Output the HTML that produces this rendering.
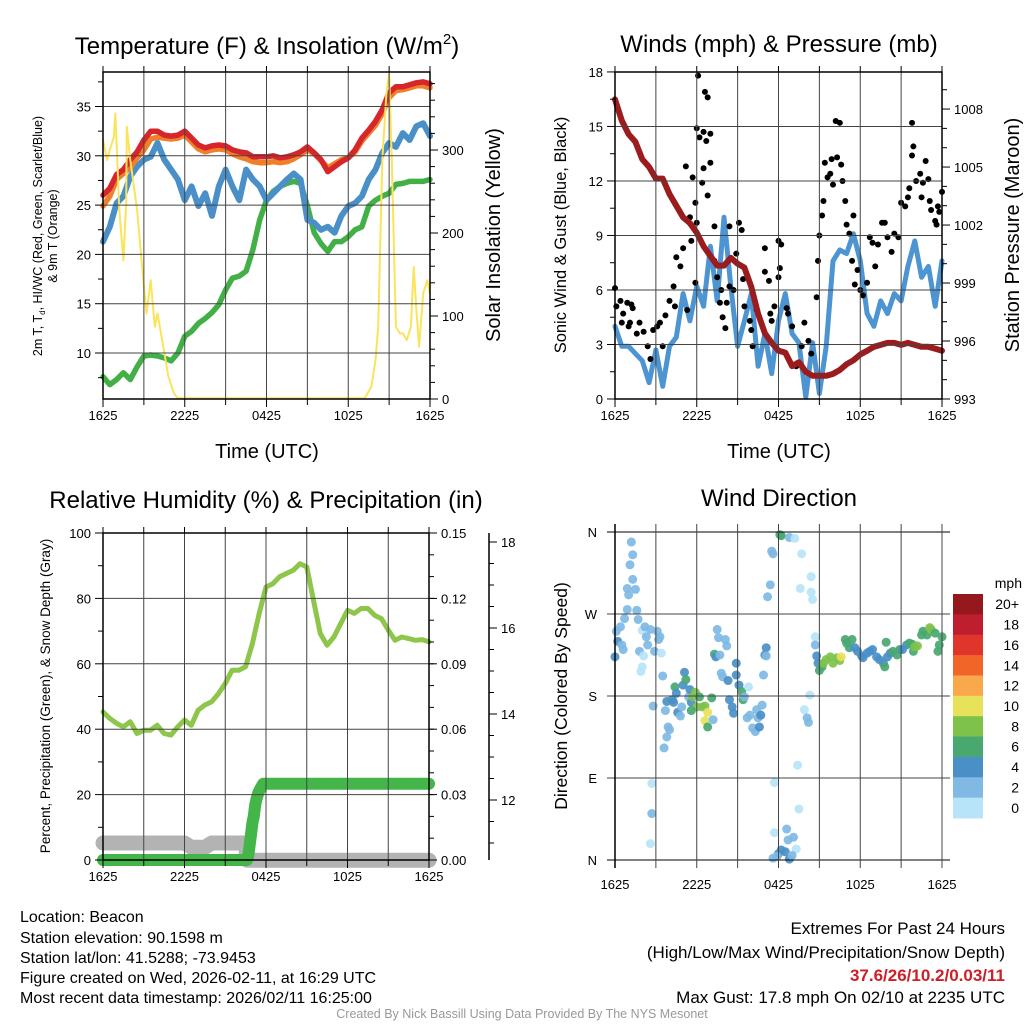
<!DOCTYPE html>
<html><head><meta charset="utf-8"><style>
html,body{margin:0;padding:0;background:#fff;}
svg{display:block;font-family:"Liberation Sans",Arial,sans-serif;}
</style></head><body>
<svg id="fig" width="1024" height="1024" viewBox="0 0 1024 1024" xmlns="http://www.w3.org/2000/svg">
<rect width="1024" height="1024" fill="#fff"/>
<g id="gP1"></g>
<g id="gP2"></g>
<g id="gP3"></g>
<g id="gP4"></g>
<g id="gAx"></g>

<text x="267" y="54" font-size="24" text-anchor="middle">Temperature (F) &amp; Insolation (W/m<tspan font-size="15" dy="-10">2</tspan><tspan dy="10">)</tspan></text>
<text x="779" y="52" font-size="24" text-anchor="middle">Winds (mph) &amp; Pressure (mb)</text>
<text x="266" y="508" font-size="24" text-anchor="middle">Relative Humidity (%) &amp; Precipitation (in)</text>
<text x="779" y="506" font-size="24" text-anchor="middle">Wind Direction</text>

<text x="267" y="458" font-size="20" text-anchor="middle">Time (UTC)</text>
<text x="779" y="458" font-size="20" text-anchor="middle">Time (UTC)</text>

<text transform="translate(42,236) rotate(-90)" font-size="12.5" text-anchor="middle">2m T, T<tspan font-size="8" dy="3">d</tspan><tspan dy="-3">, HI/WC (Red, Green, Scarlet/Blue)</tspan></text>
<text transform="translate(57,236) rotate(-90)" font-size="12.5" text-anchor="middle">&amp; 9m T (Orange)</text>
<text transform="translate(500,235) rotate(-90)" font-size="20" text-anchor="middle">Solar Insolation (Yellow)</text>
<text transform="translate(566,235) rotate(-90)" font-size="16.5" text-anchor="middle">Sonic Wind &amp; Gust (Blue, Black)</text>
<text transform="translate(1019,235) rotate(-90)" font-size="20" text-anchor="middle">Station Pressure (Maroon)</text>
<text transform="translate(50,696) rotate(-90)" font-size="13.5" text-anchor="middle">Percent, Precipitation (Green), &amp; Snow Depth (Gray)</text>
<text transform="translate(567,696) rotate(-90)" font-size="17.5" text-anchor="middle">Direction (Colored By Speed)</text>

<g font-size="16">
<text x="20" y="922">Location: Beacon</text>
<text x="20" y="943">Station elevation: 90.1598 m</text>
<text x="20" y="963">Station lat/lon: 41.5288; -73.9453</text>
<text x="20" y="983">Figure created on Wed, 2026-02-11, at 16:29 UTC</text>
<text x="20" y="1003">Most recent data timestamp: 2026/02/11 16:25:00</text>
</g>
<g font-size="17" text-anchor="end">
<text x="1005" y="934">Extremes For Past 24 Hours</text>
<text x="1005" y="958">(High/Low/Max Wind/Precipitation/Snow Depth)</text>
<text x="1005" y="981" fill="#cc1f27" font-weight="bold">37.6/26/10.2/0.03/11</text>
<text x="1005" y="1003">Max Gust: 17.8 mph On 02/10 at 2235 UTC</text>
</g>
<text x="522" y="1018" font-size="12.5" fill="#999" text-anchor="middle">Created By Nick Bassill Using Data Provided By The NYS Mesonet</text>
</svg>
<script>
// ---------- data ----------
const xTickLabels = ["1625","2225","0425","1025","1625"];
// panel 1 (half-hour steps over 24h)
const tempRed = [26.0,26.7,28.1,28.6,29.6,30.4,31.6,32.5,32.5,32.1,32.0,32.1,32.5,31.8,31.1,30.8,31.0,31.1,31.0,30.6,30.4,30.3,29.9,29.9,29.9,30.0,29.8,29.9,30.1,30.4,30.9,30.3,29.6,28.4,28.9,29.4,29.8,30.6,31.8,32.6,33.5,34.7,36.4,37.0,37.0,37.2,37.4,37.5,37.3];
const temp9m = [24.9,25.9,27.6,28.2,28.8,29.8,30.6,31.7,31.9,31.8,31.7,31.8,32.1,31.4,30.7,30.4,30.6,30.7,30.6,30.2,29.9,29.7,29.4,29.3,29.3,29.4,29.3,29.4,29.7,30.1,30.6,30.2,29.5,28.8,29.2,29.6,29.8,30.4,31.5,32.3,33.1,34.3,35.9,36.6,36.7,36.9,37.1,37.1,36.9];
const tempHiWc = [21.3,22.8,25.2,25.9,27.9,28.9,29.6,29.9,31.3,29.6,28.6,27.6,25.5,26.9,24.9,26.2,23.9,26.9,28.6,26.9,25.5,28.6,27.6,26.9,25.5,26.2,26.9,27.6,28.2,27.6,23.5,23.2,22.5,22.8,22.2,23.9,24.9,25.2,25.9,27.6,28.6,30.3,31.3,30.9,32.3,31.6,33.0,33.3,32.0];
const dewpoint = [7.6,6.8,7.3,8.0,7.3,8.6,9.7,9.8,9.7,9.5,9.2,10.0,11.7,12.2,13.0,13.5,14.1,14.9,16.4,17.6,17.8,18.3,20.5,23.5,25.5,26.4,26.9,27.2,27.4,27.2,24.9,22.2,21.1,20.3,21.3,21.3,21.8,22.5,22.8,24.9,25.5,25.9,26.2,27.1,27.2,27.4,27.4,27.4,27.6];
const solarHours = [0,0.3,0.5,0.8,0.9,1.0,1.2,1.5,1.7,1.75,2,2.5,3,3.2,3.5,3.8,4,4.3,4.8,5.2,5.5,19.2,19.7,20,20.2,20.5,20.8,21,21.2,21.5,21.8,22,22.3,22.6,22.8,23,23.2,23.5,23.8,24];
const solarVals = [312,288,300,316,344,308,228,167,236,328,288,228,135,103,143,87,103,75,27,7,1,1,15,47,87,288,368,392,288,87,79,79,71,87,159,107,63,127,143,127];
// panel 2
const pressure = [1008.5,1007.4,1006.7,1006.3,1005.4,1005.0,1004.4,1004.4,1003.6,1003.0,1002.4,1002.1,1001.6,1000.9,1000.4,999.9,999.9,1000.3,1000.0,999.8,998.8,997.4,996.4,995.9,995.5,995.4,994.7,994.9,994.4,994.2,994.2,994.2,994.3,994.5,994.8,995.0,995.3,995.5,995.7,995.8,995.9,995.9,995.8,995.9,995.8,995.7,995.7,995.6,995.5];
const sonicWind = [4.0,2.9,2.9,2.5,2.1,0.9,2.7,0.7,2.9,3.4,5.8,4.3,6.2,5.1,8.4,5.4,10.0,6.2,2.9,4.3,5.8,1.8,3.6,1.4,4.3,5.8,3.6,3.1,0.1,3.1,0.3,2.9,7.6,8.2,8.0,9.1,7.6,4.7,4.0,5.4,4.7,5.8,5.4,7.3,8.7,6.7,7.3,5.1,7.6];
const gustHours = [0,0.1,0.4,0.5,0.6,0.9,1.0,1.1,1.2,1.3,1.6,1.8,2.1,2.4,2.6,2.8,3.1,3.3,3.5,3.7,4.0,4.3,4.4,4.5,4.8,5.0,5.3,5.5,5.6,5.9,5.2,5.7,5.9,6.0,6.1,6.0,6.2,6.4,6.5,6.6,6.5,6.7,6.8,7.0,6.8,7.0,7.3,7.3,7.5,7.7,7.8,7.9,8.1,8.2,8.4,8.4,8.7,8.9,9.1,9.3,9.4,9.5,9.9,10.0,10.1,10.4,11.0,11.0,11.3,11.4,11.5,11.7,12.0,12.1,12.2,12.0,12.6,12.7,13.0,13.3,13.7,13.9,14.2,14.4,14.8,14.9,15.0,15.2,15.3,15.4,15.6,15.8,15.9,16.0,16.3,16.2,16.5,16.6,16.7,16.9,17.0,17.2,17.5,17.4,17.6,17.8,18.0,18.2,18.5,18.7,18.9,19.1,19.3,19.6,19.8,20.0,20.3,20.5,20.8,21.0,21.3,21.5,21.6,21.8,21.8,21.9,22.1,22.4,22.5,22.6,22.8,23.0,23.1,23.2,23.5,23.6,23.7,23.8,24];
const gustVals = [6.1,5.1,5.4,4.2,4.7,5.3,4.0,4.2,5.2,5.0,3.6,4.2,3.7,2.9,2.2,3.8,4.0,4.2,2.9,4.6,5.4,6.2,5.1,7.8,7.3,8.3,4.9,10.0,8.7,6.4,12.8,12.2,10.8,9.7,17.8,14.9,14.4,11.9,12.7,16.9,14.7,14.2,16.6,14.6,11.2,13.0,9.5,7.6,6.7,5.3,6.0,4.5,3.9,5.3,9.5,6.2,6.0,8.0,9.7,9.3,6.6,5.1,4.3,3.8,2.9,4.9,8.3,7.0,6.5,4.7,4.3,5.1,8.7,7.2,8.5,6.7,5.0,4.7,4.0,1.8,2.9,4.2,3.2,2.5,5.6,7.6,9.0,10.1,10.9,13.0,12.2,12.4,13.2,11.8,13.3,15.3,15.2,12.9,12.0,10.9,9.6,9.1,10.1,7.6,6.3,7.1,6.0,5.7,6.4,8.9,8.6,7.3,8.5,9.7,9.7,8.9,8.1,9.1,8.9,10.8,10.6,11.1,11.6,13.4,15.2,13.9,12.0,12.4,11.1,11.9,13.1,12.1,10.9,10.4,9.8,9.6,10.6,10.3,11.4];
// panel 3
const relHum = [45.3,43.3,41.8,40.7,42.3,38.7,39.7,39.7,41.2,38.7,38.2,40.7,42.8,41.2,45.8,47.4,48.4,50.9,54.0,58.0,58.0,59.1,66.2,75.4,83.5,84.5,86.6,87.6,88.6,90.6,89.6,79.4,69.2,65.7,68.2,72.3,76.4,75.4,76.9,76.9,74.8,73.8,70.3,67.2,68.2,67.7,67.2,67.4,66.7];
const precipHours = [0,2,4,6,8,10,10.6,10.7,10.8,10.9,11.0,11.1,11.2,11.3,11.45,11.6,11.8,12,14,16,18,20,22,24];
const precipVals = [0,0,0,0,0,0,0,0.002,0.007,0.012,0.017,0.02,0.025,0.028,0.031,0.033,0.035,0.035,0.035,0.035,0.035,0.035,0.035,0.035];
const snowHours = [0,2,4,6,6.5,7.5,8,10.5,10.6,12,16,20,24];
const snowVals = [11,11,11,11,10.9,10.9,11,11,10.6,10.6,10.6,10.6,10.6];
// panel 4
const dirHours = [0,0.1,0.4,0.2,0.5,0.6,0.7,0.9,0.9,1.0,1.1,1.2,1.3,1.3,1.5,1.6,1.7,1.8,2.0,2.0,1.9,2.1,2.2,2.3,2.4,2.6,2.8,2.9,3.1,3.2,3.3,3.4,2.7,2.7,2.6,3.5,3.7,3.6,3.8,3.9,4.0,3.8,4.2,4.3,4.4,4.5,4.6,4.8,5.0,5.1,5.2,4.9,5.4,5.5,5.6,5.7,5.9,6.0,6.2,6.4,6.6,5.6,6.8,6.6,6.8,7.1,7.2,7.3,7.4,7.5,7.6,7.7,7.8,7.9,8.1,8.2,8.3,8.4,8.6,8.7,8.9,8.9,9.1,9.3,9.4,9.5,9.8,9.7,9.9,10.1,10.3,10.4,10.5,10.6,10.7,10.8,10.9,11.0,11.1,11.1,11.2,11.4,11.5,11.6,12.1,12.2,12.8,13.2,13.7,14.4,14.4,14.5,13.6,14.3,13.9,14.1,14.2,13.4,11.7,13.5,11.7,12.6,12.7,13.1,13.3,12.2,12.5,12.0,11.9,11.6,12.8,13.0,14.7,14.7,14.8,14.9,15.0,15.2,15.3,15.5,15.8,16.0,16.3,16.5,16.6,16.9,17.0,17.2,17.4,17.6,17.8,18.1,18.2,18.5,18.7,18.9,19.2,19.4,19.7,19.8,19.9,20.0,20.2,20.4,20.7,20.9,21.1,21.4,21.6,21.8,21.9,22.0,22.2,22.5,22.6,22.9,23.1,23.2,23.5,23.7,23.8,24.0];
const dirDegs = [223,251,256,240,236,231,265,275,298,291,324,349,335,308,297,274,264,229,252,212,207,224,256,245,236,253,169,229,251,242,245,227,84,51,18,202,164,123,135,146,143,174,176,173,190,183,162,158,192,206,198,168,179,187,173,179,184,168,179,168,169,164,162,153,146,178,154,226,223,253,244,225,205,201,242,235,197,176,168,161,216,203,192,185,176,179,190,156,159,145,141,165,156,146,159,170,203,225,233,224,289,302,339,336,357,356,354,353,336,311,294,286,298,181,165,156,151,104,85,56,30,34,22,25,12,11,9,7,4,2,1,5,245,236,224,216,208,212,216,220,223,216,222,219,223,242,238,233,242,233,229,224,222,227,229,231,223,220,216,212,239,223,227,229,225,231,231,236,238,237,229,234,235,247,251,247,255,253,249,229,236,245];
const dirSpeeds = [5,3,3,5,3,3,3,3,3,3,3,3,3,3,3,3,3,3,1,1,1,1,3,3,3,3,3,3,3,3,3,1,1,3,1,3,3,3,3,3,3,5,5,5,7,5,5,3,5,5,7,3,3,5,5,9,9,9,7,9,9,7,11,11,7,7,3,7,5,3,3,3,3,3,3,3,5,5,5,5,5,5,5,7,7,3,1,3,3,3,3,3,3,5,5,3,3,5,5,3,3,3,3,3,7,7,3,1,1,1,1,1,1,1,1,3,3,1,1,1,1,3,3,3,1,5,5,5,3,3,5,3,1,3,5,5,7,7,9,9,9,9,9,9,11,7,7,7,7,5,5,5,5,5,5,5,5,5,5,7,7,5,5,7,7,7,5,5,7,7,7,9,9,7,7,7,9,9,7,7,7,7,9];
const speedLabels = ["0","2","4","6","8","10","12","14","16","18","20+"];
const speedColors = ["#b7e4f8","#7fb9e4","#4a8fc7","#48a870","#7ec24c","#e8e15a","#f9a94b","#f26529","#e0352b","#be1e2d","#94181c"];

// ---------- helpers ----------
const NS = "http://www.w3.org/2000/svg";
function mk(tag, attrs, parent, name){
  const el = document.createElementNS(NS, tag);
  for (const k in attrs) el.setAttribute(k, attrs[k]);
  
  
  parent.appendChild(el);
  return el;
}
const halfHours = relHum.map((_, i) => i * 0.5);
function pathD(xs, ys, sx, sy){
  return xs.map((x, i) => (i ? "L" : "M") + sx(x).toFixed(1) + "," + sy(ys[i]).toFixed(1)).join("");
}
function series(g, xs, ys, sx, sy, color, w, name){
  mk("path", {d: pathD(xs, ys, sx, sy), fill: "none", stroke: color, "stroke-width": w, "stroke-linejoin": "round", "stroke-linecap": "round"}, g, name);
}
const ax = document.getElementById("gAx");
function frame(x0, x1, y0, y1, name){
  const xsc = h => x0 + (x1 - x0) * h / 24;
  for (let k = 1; k < 8; k++) {
    mk("line", {x1: xsc(k*3), x2: xsc(k*3), y1: y0, y2: y1, stroke: "#444", "stroke-width": 1}, ax, name + "-vgrid");
  }
  for (let k = 0; k <= 8; k++) {
    mk("line", {x1: xsc(k*3), x2: xsc(k*3), y1: y1, y2: y1 + (k % 2 ? 6 : 8), stroke: "#000", "stroke-width": 1}, ax, name + "-xtick");
    mk("line", {x1: xsc(k*3), x2: xsc(k*3), y1: y0, y2: y0 - 6, stroke: "#000", "stroke-width": 1}, ax, name + "-xtick-top");
  }
  mk("rect", {x: x0, y: y0, width: x1 - x0, height: y1 - y0, fill: "none", stroke: "#000", "stroke-width": 1.5}, ax, name + "-frame");
  xTickLabels.forEach((t, i) => {
    const tx = mk("text", {x: xsc(i*6), y: y1 + 21, "font-size": 13, "text-anchor": "middle"}, ax, name + "-x-tick-label");
    tx.textContent = t;
  });
  return xsc;
}
function hgrid(x0, x1, y, name){ mk("line", {x1: x0, x2: x1, y1: y, y2: y, stroke: "#444", "stroke-width": 1}, ax, name); }
function yTicks(x, ys, labels, side, name, minor){
  ys.forEach((y, i) => {
    mk("line", {x1: x, x2: x + side * 8, y1: y, y2: y, stroke: "#000", "stroke-width": 1}, ax, name + "-tick");
    const t = mk("text", {x: x + side * 12, y: y + 5, "font-size": 13, "text-anchor": side < 0 ? "end" : "start"}, ax, name + "-label");
    t.textContent = labels[i];
  });
  (minor || []).forEach(y => mk("line", {x1: x, x2: x + side * 5, y1: y, y2: y, stroke: "#000", "stroke-width": 1}, ax, name + "-minor-tick"));
}

// ---------- panel 1 ----------
(function(){
  const g = document.getElementById("gP1");
  const X0=103, X1=430, Y0=72, Y1=399;
  const sx = h => X0 + (X1 - X0) * h / 24;
  const sT = v => 353 - (v - 10) * 9.86;
  const sS = v => 399 - v * 0.83;
  [10,15,20,25,30,35].forEach(v => hgrid(X0, X1, sT(v), "p1-hgrid"));
  series(g, halfHours, dewpoint, sx, sT, "#43b047", 5.5, "dewpoint-line");
  series(g, halfHours, tempHiWc, sx, sT, "#4a8fc7", 6, "heat-index-wind-chill-line");
  series(g, halfHours, temp9m, sx, sT, "#f07f2a", 5.5, "temp-9m-line");
  series(g, halfHours, tempRed, sx, sT, "#d7262b", 5.5, "temp-2m-line");
  series(g, solarHours, solarVals, sx, sS, "#fbe35a", 2, "solar-insolation-line");
  frame(X0, X1, Y0, Y1, "p1");
  const mT = []; for (let v = 7.5; v <= 37.5; v += 5) mT.push(sT(v));
  yTicks(X0, [10,15,20,25,30,35].map(sT), ["10","15","20","25","30","35"], -1, "p1-left-axis", mT);
  const mS = []; for (let v = 20; v <= 390; v += 20) if (v % 100) mS.push(sS(v));
  yTicks(X1, [0,100,200,300].map(sS), ["0","100","200","300"], 1, "solar-axis", mS);
})();

// ---------- panel 2 ----------
(function(){
  const g = document.getElementById("gP2");
  const X0=615, X1=942, Y0=72, Y1=399;
  const sx = h => X0 + (X1 - X0) * h / 24;
  const sW = v => 399 - v * 18.17;
  const sP = v => 399 - (v - 993) * 19.33;
  [3,6,9,12,15].forEach(v => hgrid(X0, X1, sW(v), "p2-hgrid"));
  series(g, halfHours, sonicWind, sx, sW, "#4d95d2", 5, "sonic-wind-line");
  gustHours.forEach((h, i) => {
    const c = document.createElementNS(NS, "circle");
    c.setAttribute("cx", sx(h)); c.setAttribute("cy", sW(gustVals[i])); c.setAttribute("r", 3); c.setAttribute("fill", "#000");
    
    
    g.appendChild(c);
  });
  series(g, halfHours, pressure, sx, sP, "#9b1c1f", 6, "pressure-line");
  frame(X0, X1, Y0, Y1, "p2");
  const mW = []; for (let v = 1.5; v <= 18; v += 3) mW.push(sW(v));
  yTicks(X0, [0,3,6,9,12,15,18].map(sW), ["0","3","6","9","12","15","18"], -1, "wind-axis", mW);
  const mP = []; for (let v = 994; v <= 1009; v++) if ((v - 993) % 3) mP.push(sP(v));
  yTicks(X1, [993,996,999,1002,1005,1008].map(sP), ["993","996","999","1002","1005","1008"], 1, "pressure-axis", mP);
})();

// ---------- panel 3 ----------
(function(){
  const g = document.getElementById("gP3");
  const X0=103, X1=429, Y0=533, Y1=860;
  const sx = h => X0 + (X1 - X0) * h / 24;
  const sR = v => 860 - v * 3.27;
  const sPr = v => 860 - v / 0.15 * 327;
  const sSn = v => 800 - (v - 12) * 43;
  [20,40,60,80].forEach(v => hgrid(X0, X1, sR(v), "p3-hgrid"));
  series(g, halfHours, relHum, sx, sR, "#8dc64b", 5, "relative-humidity-line");
  series(g, snowHours, snowVals, sx, sSn, "#b3b3b3", 15, "snow-depth-line");
  series(g, precipHours, precipVals, sx, sPr, "#44b549", 12, "precipitation-line");
  frame(X0, X1, Y0, Y1, "p3");
  const mR = []; for (let v = 10; v <= 100; v += 20) mR.push(sR(v));
  yTicks(X0, [0,20,40,60,80,100].map(sR), ["0","20","40","60","80","100"], -1, "humidity-axis", mR);
  const mPr = []; for (let v = 0.01; v < 0.15; v += 0.01) mPr.push(sPr(v));
  yTicks(X1, [0,0.03,0.06,0.09,0.12,0.15].map(sPr), ["0.00","0.03","0.06","0.09","0.12","0.15"], 1, "precip-axis", mPr);
  mk("line", {x1: 489, x2: 489, y1: Y0, y2: Y1, stroke: "#000", "stroke-width": 1.5}, ax, "snow-axis-line");
  const mSn = []; for (let v = 10.5; v <= 18.5; v += 0.5) if (v % 2) mSn.push(sSn(v));
  yTicks(489, [12,14,16,18].map(sSn), ["12","14","16","18"], 1, "snow-axis", mSn.filter(y => y > Y0 && y < Y1));
})();

// ---------- panel 4 ----------
(function(){
  const g = document.getElementById("gP4");
  const X0=615, X1=942, Y0=532, Y1=860;
  const sx = h => X0 + (X1 - X0) * h / 24;
  const sD = v => 860 - v * 328 / 360;
  [90,180,270].forEach(v => hgrid(X0 - 8, X1 + 8, sD(v), "p4-hgrid"));
  [0,360].forEach(v => mk("line", {x1: X0 - 8, x2: X1 + 8, y1: sD(v), y2: sD(v), stroke: "#000", "stroke-width": 1}, ax, "p4-edge-line"));
  dirHours.forEach((h, i) => {
    const c = document.createElementNS(NS, "circle");
    const k = Math.min(10, Math.floor(dirSpeeds[i] / 2));
    c.setAttribute("cx", sx(h)); c.setAttribute("cy", sD(dirDegs[i])); c.setAttribute("r", 4.5);
    c.setAttribute("fill", speedColors[k]); c.setAttribute("fill-opacity", 0.92);
    
    
    g.appendChild(c);
  });
  const xsc = h => X0 + (X1 - X0) * h / 24;
  for (let k = 0; k <= 8; k++) mk("line", {x1: xsc(k*3), x2: xsc(k*3), y1: Y0 - 8, y2: Y1 + 8, stroke: "#444", "stroke-width": 1}, ax, "p4-vgrid");
  mk("line", {x1: X0, x2: X0, y1: Y0 - 8, y2: Y1 + 8, stroke: "#000", "stroke-width": 1.5}, ax, "p4-left-axis-line");
  xTickLabels.forEach((t, i) => {
    const tx = mk("text", {x: xsc(i*6), y: Y1 + 29, "font-size": 13, "text-anchor": "middle"}, ax, "p4-x-tick-label");
    tx.textContent = t;
  });
  ["N","E","S","W","N"].forEach((t, i) => {
    const tx = mk("text", {x: 597, y: sD(i*90) + 5, "font-size": 13, "text-anchor": "end"}, ax, "direction-label");
    tx.textContent = t;
  });
  // colorbar
  const cb = mk("g", {}, g, "speed-colorbar");
  const top = 594, hgt = 224 / 11;
  for (let k = 0; k < 11; k++) {
    const idx = 10 - k;
    mk("rect", {x: 953, y: top + k * hgt, width: 30, height: hgt + 0.5, fill: speedColors[idx]}, cb, "colorbar-swatch");
    const t = mk("text", {x: 1019, y: top + k * hgt + hgt/2 + 5, "font-size": 14, "text-anchor": "end"}, cb, "colorbar-label");
    t.textContent = speedLabels[idx];
  }
  const u = mk("text", {x: 1022, y: 588, "font-size": 14, "text-anchor": "end"}, cb, "colorbar-unit");
  u.textContent = "mph";
})();
</script>
</body></html>
